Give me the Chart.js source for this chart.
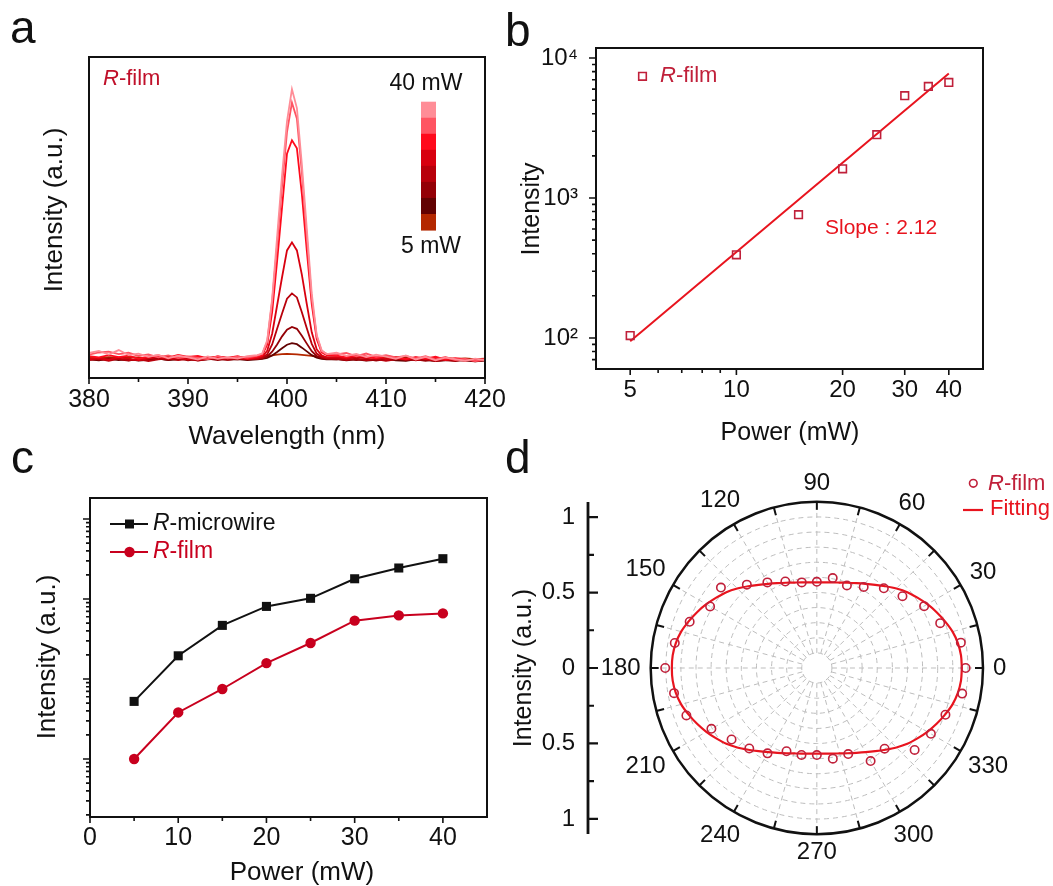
<!DOCTYPE html>
<html>
<head>
<meta charset="utf-8">
<title>R-film emission</title>
<script src="https://cdn.jsdelivr.net/npm/chart.js@4.4.1/dist/chart.umd.min.js"></script>
<style>
  html, body { margin: 0; padding: 0; background: #fff; }
  #wrap { position: relative; width: 1053px; height: 886px; }
  #wrap canvas { position: absolute; left: 0; top: 0; }
</style>
</head>
<body>
<div id="wrap">
  <canvas id="chartA" width="1053" height="886"></canvas>
  <canvas id="chartB" width="1053" height="886"></canvas>
  <canvas id="chartC" width="1053" height="886"></canvas>
  <canvas id="chartD" width="1053" height="886"></canvas>
</div>
<script>
const W = 1053, H = 886;
const FAMILY = "'Liberation Sans', Arial, Helvetica, sans-serif";
Chart.defaults.font.family = FAMILY;
Chart.defaults.color = '#111';

// ---------- (a) spectra, 40 mW down to 5 mW ----------
const wavelengths = [380, 381, 382, 383, 384, 385, 386, 387, 388, 389, 390, 391, 392, 393, 394, 395, 396, 397,
  397.5, 398, 398.5, 399, 399.5, 400, 400.5, 401, 401.5, 402, 402.5, 403, 403.5, 404,
  405, 406, 407, 408, 409, 410, 411, 412, 413, 414, 415, 416, 417, 418, 419, 420];
const powersA = ['40 mW', '35 mW', '30 mW', '25 mW', '20 mW', '15 mW', '10 mW', '5 mW'];
const spec40 = [1.8, 2.6, 1.2, 2.9, 1.0, 1.6, 0.4, 1.1, -0.2, 0.8, 0.2, -0.6, 0.5, -0.4, 0.3, -0.3, 0.6, 1.0,
  1.6, 6.5, 22, 45, 68, 88, 100, 93, 72, 48, 24, 8.5, 2.8, 1.4,
  1.9, 0.7, 1.5, 0.3, 1.2, 0.5, -0.4, 0.9, -0.6, 0.4, -0.9, 0.1, -0.5, -1.1, -0.3, -0.8];
const spec35 = [1.2, 2.0, 2.3, 1.4, 1.9, 0.7, 1.3, 0.2, 0.9, -0.1, 0.5, 0.0, -0.5, 0.6, -0.2, 0.4, 0.1, 0.8,
  1.5, 6.0, 21, 42, 64, 84, 95, 89, 69, 45, 22, 8.0, 2.5, 1.5,
  1.3, 1.8, 0.6, 1.6, 0.4, 1.0, 0.2, 0.7, -0.2, 0.6, -0.6, 0.3, -0.8, -0.4, -1.2, -0.6];
const spec30 = [0.6, 0.2, 1.0, 0.3, 0.8, -0.4, 0.5, 0.9, 0.1, 1.1, 0.4, 0.7, -0.2, 0.5, 0.0, 0.6, -0.3, 0.4,
  1.0, 5.0, 17, 36, 56, 76, 81, 78, 61, 40, 20, 7.0, 2.0, 1.0,
  0.8, 0.2, 1.0, 0.5, -0.2, 0.7, 0.1, -0.5, 0.3, -0.3, 0.4, -0.7, -0.1, -0.6, -1.0, -0.4];
const spec25 = [-0.5, -0.1, -0.7, 0.2, -0.3, -0.9, -0.2, 0.3, -0.4, 0.1, -0.6, 0.2, -0.3, 0.4, -0.1, 0.3, -0.4, 0.0,
  0.5, 2.6, 9.0, 19.5, 30, 40, 43, 40, 31, 20, 9.5, 3.2, 0.9, 0.2,
  0.3, -0.3, 0.5, -0.2, 0.4, -0.5, 0.1, -0.6, 0.2, -0.4, -0.8, 0.0, -0.6, -1.1, -0.5, -0.9];
const spec20 = [-0.8, -0.4, -1.1, -0.3, -0.9, -0.5, -1.2, -0.6, -0.2, -0.8, -0.4, -1.0, -0.5, -0.2, -0.7, -0.3, -0.6, -0.4,
  0.1, 1.3, 5.0, 10.8, 16.5, 22, 24, 22.5, 17, 11, 5.2, 1.6, 0.3, -0.2,
  -0.4, -0.8, -0.3, -0.9, -0.5, -1.1, -0.6, -0.2, -0.9, -0.5, -1.2, -0.7, -1.0, -0.6, -1.3, -0.8];
const spec15 = [-0.3, -0.7, -0.2, -0.6, -1.0, -0.4, -0.8, -0.3, -0.7, -0.2, -0.9, -0.5, -0.3, -0.8, -0.4, -0.6, -0.2, -0.5,
  -0.2, 0.5, 2.3, 5.0, 8.0, 10.5, 11.5, 10.8, 8.2, 5.3, 2.5, 0.7, -0.1, -0.4,
  -0.6, -0.2, -0.8, -0.4, -1.0, -0.5, -0.3, -0.9, -0.6, -1.1, -0.4, -0.8, -1.2, -0.7, -0.9, -0.5];
const spec10 = [-0.6, -0.9, -0.4, -0.8, -0.5, -1.0, -0.7, -0.3, -0.8, -0.6, -0.4, -0.9, -0.6, -0.3, -0.7, -0.5, -0.8, -0.6,
  -0.4, 0.0, 0.9, 2.2, 3.6, 4.9, 5.5, 5.1, 3.8, 2.4, 1.0, 0.1, -0.4, -0.6,
  -0.5, -0.9, -0.6, -1.0, -0.7, -0.4, -0.9, -1.1, -0.6, -0.8, -1.2, -0.9, -0.7, -1.0, -1.3, -1.0];
const spec5 = [0.2, -0.1, 0.3, 0.0, 0.4, 0.1, -0.2, 0.2, 0.5, 0.1, 0.3, -0.1, 0.2, 0.4, 0.0, 0.3, 0.1, 0.2,
  0.3, 0.6, 0.9, 1.2, 1.4, 1.5, 1.4, 1.3, 1.1, 0.9, 0.7, 0.5, 0.4, 0.3,
  0.2, 0.4, 0.0, 0.3, -0.1, 0.2, 0.4, 0.1, -0.2, 0.1, -0.3, 0.0, -0.4, -0.2, -0.5, -0.3];
const spectraA = [spec40, spec35, spec30, spec25, spec20, spec15, spec10, spec5];
const colorsA = ['#ff8d97', '#ff5462', '#ff0a1c', '#d8000f', '#b8000b', '#940006', '#620202', '#b42800'];
const xTicksA = [380, 390, 400, 410, 420];
const xMinorA = [385, 395, 405, 415];

// ---------- (b) power dependence, log-log ----------
const powerB = [5, 10, 15, 20, 25, 30, 35, 40];
const intensityB = [104, 393, 760, 1618, 2833, 5383, 6268, 6700];
const fitSlopeB = 2.12;
const fitStartB = 94.6;          // fitted intensity at 5 mW
const fitPowerB = [5, 40];
const xTicksB = [5, 10, 20, 30, 40];
const xMinorB = [6, 7, 8, 9];
const yTicksB = [100, 1000, 10000];
const yTickLabelsB = ['10²', '10³', '10⁴'];

// ---------- (c) microwire vs film ----------
const powerC = [5, 10, 15, 20, 25, 30, 35, 40];
const microwireC = [52500, 195000, 468000, 808000, 1020000, 1790000, 2440000, 3190000];
const filmC = [10000, 38200, 75000, 158000, 282000, 536000, 624000, 661000];
const xTicksC = [0, 10, 20, 30, 40];
const xMinorC = [5, 15, 25, 35];
const yMajorC = [1e4, 1e5, 1e6, 1e7];

// ---------- (d) polarisation ----------
const anglesD = [0, 10, 20, 30, 40, 50, 60, 70, 80, 90, 100, 110, 120, 130, 140, 150, 160, 170,
  180, 190, 200, 210, 220, 230, 240, 250, 260, 270, 280, 290, 300, 310, 320, 330, 340, 350];
const radiiD = [0.985, 0.968, 0.869, 0.820, 0.740, 0.690, 0.620, 0.582, 0.605, 0.571, 0.576, 0.610,
  0.655, 0.721, 0.829, 0.816, 0.896, 0.955, 1.004, 0.960, 0.919, 0.806, 0.737, 0.696,
  0.653, 0.587, 0.585, 0.577, 0.610, 0.607, 0.712, 0.698, 0.845, 0.872, 0.906, 0.977];
const fitAnglesD = [0, 5, 10, 15, 20, 25, 30, 35, 40, 45, 50, 55, 60, 65, 70, 75, 80, 85, 90,
  95, 100, 105, 110, 115, 120, 125, 130, 135, 140, 145, 150, 155, 160, 165, 170, 175, 180,
  185, 190, 195, 200, 205, 210, 215, 220, 225, 230, 235, 240, 245, 250, 255, 260, 265, 270,
  275, 280, 285, 290, 295, 300, 305, 310, 315, 320, 325, 330, 335, 340, 345, 350, 355, 360];
const fitRadiiD = [0.960, 0.958, 0.948, 0.930, 0.903, 0.875, 0.845, 0.813, 0.782, 0.745, 0.707, 0.673, 0.644, 0.620, 0.601, 0.586, 0.576, 0.569, 0.567,
  0.569, 0.576, 0.586, 0.601, 0.620, 0.644, 0.673, 0.707, 0.745, 0.782, 0.813, 0.845, 0.875, 0.903, 0.930, 0.948, 0.958, 0.960,
  0.958, 0.948, 0.930, 0.903, 0.875, 0.845, 0.813, 0.782, 0.745, 0.707, 0.673, 0.644, 0.620, 0.601, 0.586, 0.576, 0.569, 0.567,
  0.569, 0.576, 0.586, 0.601, 0.620, 0.644, 0.673, 0.707, 0.745, 0.782, 0.813, 0.845, 0.875, 0.903, 0.930, 0.948, 0.958, 0.960];
const yTicksD = [-1, -0.5, 0, 0.5, 1];
const yTickLabelsD = ['1', '0.5', '0', '0.5', '1'];
const yMinorD = [-0.75, -0.25, 0.25, 0.75];
const angleLabelsD = [0, 30, 60, 90, 120, 150, 180, 210, 240, 270, 300, 330];
const ringsD = [0.1, 0.2, 0.3, 0.4, 0.5, 0.6, 0.7, 0.8, 0.9, 1.0];
const spokesD = [0, 15, 30, 45, 60, 75, 90, 105, 120, 135, 150, 165, 180, 195, 210, 225, 240, 255, 270, 285, 300, 315, 330, 345];
const outerD = 1.1;

// ---------- helpers ----------
const CRIMSON = '#c0203a';
const RED = '#e8141e';

// chart area pinned to box b; yw / xh are the widths reserved for tick labels
function fixedBox(b, yw, xh) {
  return { padding: { left: b.l - yw, top: b.t, right: W - b.r, bottom: H - b.b - xh } };
}
const fixWidth = w => s => { s.width = w; };
const fixHeight = h => s => { s.height = h; };
const setTicks = list => s => { s.ticks = list.map(v => ({ value: v })); };

function logMinor(lo, hi) {
  const out = [];
  for (let d = Math.pow(10, Math.floor(Math.log10(lo))); d < hi; d *= 10) {
    for (let k = 2; k <= 9; k++) {
      const v = k * d;
      if (v > lo && v < hi) out.push(v);
    }
  }
  return out;
}

function drawText(ctx, t) {
  const parts = t.parts || [[t.text, 'normal']];
  ctx.save();
  ctx.fillStyle = t.color || '#111';
  ctx.textBaseline = t.baseline || 'middle';
  ctx.textAlign = 'left';
  const fontOf = st => `${st} ${t.size}px ${FAMILY}`;
  let total = 0;
  parts.forEach(([s, st]) => { ctx.font = fontOf(st); total += ctx.measureText(s).width; });
  ctx.translate(t.x, t.y);
  if (t.rotate) ctx.rotate(t.rotate * Math.PI / 180);
  let x = t.align === 'left' ? 0 : t.align === 'right' ? -total : -total / 2;
  parts.forEach(([s, st]) => {
    ctx.font = fontOf(st);
    ctx.fillText(s, x, 0);
    x += ctx.measureText(s).width;
  });
  ctx.restore();
}

function marker(ctx, style, x, y, size, color, filled) {
  ctx.save();
  ctx.strokeStyle = color;
  ctx.fillStyle = color;
  ctx.lineWidth = 1.6;
  ctx.beginPath();
  if (style === 'rect') ctx.rect(x - size / 2, y - size / 2, size, size);
  else ctx.arc(x, y, size / 2, 0, Math.PI * 2);
  filled ? ctx.fill() : ctx.stroke();
  ctx.restore();
}

// frame, tick marks, free text and legends for one panel
function decor(spec) {
  return {
    id: 'decor',
    beforeDatasetsDraw(chart) {
      if (spec.under) spec.under(chart, chart.ctx);
    },
    afterDraw(chart) {
      const ctx = chart.ctx, a = chart.chartArea;
      ctx.save();
      ctx.strokeStyle = '#111';
      if (spec.frame) {
        ctx.lineWidth = 2;
        ctx.strokeRect(a.left, a.top, a.right - a.left, a.bottom - a.top);
      }
      (spec.ticks || []).forEach(t => {
        const s = chart.scales[t.scale];
        ctx.beginPath();
        t.values.forEach(v => {
          const p = s.getPixelForValue(v);
          if (s.isHorizontal()) {
            ctx.moveTo(p, a.bottom);
            ctx.lineTo(p, a.bottom + t.len);
          } else {
            ctx.moveTo(a.left, p);
            ctx.lineTo(a.left + (t.inward ? t.len : -t.len), p);
          }
        });
        ctx.lineWidth = t.width || 1.6;
        ctx.stroke();
      });
      ctx.restore();
      if (spec.extra) spec.extra(chart, ctx);
      (spec.texts || []).forEach(t => drawText(ctx, t));
    }
  };
}

const hiddenGrid = { display: false, drawTicks: false };
const noBorder = { display: false };

// ---------- (a) ----------
const boxA = { l: 89, t: 57, r: 485, b: 378 };
new Chart(document.getElementById('chartA'), {
  type: 'line',
  data: {
    datasets: spectraA.map((vals, i) => ({
      label: powersA[i],
      data: vals.map((v, j) => ({ x: wavelengths[j], y: v })),
      borderColor: colorsA[i],
      borderWidth: 1.8,
      pointRadius: 0,
      tension: 0
    }))
  },
  options: {
    responsive: false,
    animation: false,
    devicePixelRatio: 1,
    layout: fixedBox(boxA, 0, 45),
    plugins: { legend: { display: false }, tooltip: { enabled: false } },
    scales: {
      x: {
        type: 'linear', min: 380, max: 420,
        afterFit: fixHeight(45), afterBuildTicks: setTicks(xTicksA),
        grid: hiddenGrid, border: noBorder,
        ticks: { autoSkip: false, maxRotation: 0, minRotation: 0, padding: 7, font: { size: 25 }, color: '#111', callback: v => String(v) }
      },
      y: { display: false, min: -7.5, max: 112 }
    }
  },
  plugins: [decor({
    frame: true,
    ticks: [
      { scale: 'x', values: xTicksA, len: 6 },
      { scale: 'x', values: xMinorA, len: 4 }
    ],
    extra(chart, ctx) {
      // power colour bar, 40 mW on top
      colorsA.forEach((c, i) => {
        ctx.fillStyle = c;
        ctx.fillRect(421, 101.7 + i * 16.04, 15, 16.6);
      });
    },
    texts: [
      { text: 'a', x: 10, y: 43, size: 46, align: 'left', baseline: 'alphabetic' },
      { parts: [['R', 'italic'], ['-film', 'normal']], x: 103, y: 79, size: 22, color: '#c0102a', align: 'left' },
      { text: '40 mW', x: 426, y: 84, size: 23 },
      { text: '5 mW', x: 431, y: 247, size: 23 },
      { text: 'Intensity (a.u.)', x: 55, y: 210, size: 26, rotate: -90 },
      { text: 'Wavelength (nm)', x: 287, y: 437, size: 26 }
    ]
  })]
});

// ---------- (b) ----------
const boxB = { l: 596, t: 48, r: 983, b: 369 };
new Chart(document.getElementById('chartB'), {
  type: 'scatter',
  data: {
    datasets: [
      {
        label: 'R-film',
        data: powerB.map((p, i) => ({ x: p, y: intensityB[i] })),
        pointStyle: 'rect', pointRadius: 5.4, pointBorderWidth: 1.6,
        borderColor: CRIMSON, backgroundColor: 'rgba(0,0,0,0)'
      },
      {
        label: 'Fit',
        data: fitPowerB.map(p => ({ x: p, y: fitStartB * Math.pow(p / 5, fitSlopeB) })),
        showLine: true, pointRadius: 0, borderColor: RED, borderWidth: 2
      }
    ]
  },
  options: {
    responsive: false,
    animation: false,
    devicePixelRatio: 1,
    layout: fixedBox(boxB, 70, 45),
    plugins: { legend: { display: false }, tooltip: { enabled: false } },
    scales: {
      x: {
        type: 'logarithmic', min: 4, max: 50,
        afterFit: fixHeight(45), afterBuildTicks: setTicks(xTicksB),
        grid: hiddenGrid, border: noBorder,
        ticks: { autoSkip: false, maxRotation: 0, minRotation: 0, padding: 7, font: { size: 24 }, color: '#111', callback: v => String(v) }
      },
      y: {
        type: 'logarithmic', min: 60, max: 11800,
        afterFit: fixWidth(70), afterBuildTicks: setTicks(yTicksB),
        grid: hiddenGrid, border: noBorder,
        ticks: { autoSkip: false, padding: 18, font: { size: 24 }, color: '#111', callback: (v, i) => yTickLabelsB[i] }
      }
    }
  },
  plugins: [decor({
    frame: true,
    ticks: [
      { scale: 'x', values: xTicksB, len: 6 },
      { scale: 'x', values: xMinorB, len: 4 },
      { scale: 'y', values: yTicksB, len: 7 },
      { scale: 'y', values: logMinor(60, 11800), len: 4 }
    ],
    extra(chart, ctx) {
      marker(ctx, 'rect', 642.5, 76.3, 7.6, CRIMSON, false);
    },
    texts: [
      { text: 'b', x: 505, y: 46, size: 46, align: 'left', baseline: 'alphabetic' },
      { parts: [['R', 'italic'], ['-film', 'normal']], x: 660, y: 76, size: 22, color: CRIMSON, align: 'left' },
      { text: 'Slope : 2.12', x: 825, y: 228, size: 21, color: RED, align: 'left' },
      { text: 'Intensity', x: 532, y: 209, size: 25, rotate: -90 },
      { text: 'Power (mW)', x: 790, y: 433, size: 25 }
    ]
  })]
});

// ---------- (c) ----------
const boxC = { l: 90, t: 498, r: 487, b: 817 };
const BLACK = '#111';
const FILM_RED = '#c8001e';
new Chart(document.getElementById('chartC'), {
  type: 'scatter',
  data: {
    datasets: [
      {
        label: 'R-microwire',
        data: powerC.map((p, i) => ({ x: p, y: microwireC[i] })),
        showLine: true, borderColor: BLACK, backgroundColor: BLACK, borderWidth: 2,
        pointStyle: 'rect', pointRadius: 6.4, pointBorderWidth: 0
      },
      {
        label: 'R-film',
        data: powerC.map((p, i) => ({ x: p, y: filmC[i] })),
        showLine: true, borderColor: FILM_RED, backgroundColor: FILM_RED, borderWidth: 2,
        pointStyle: 'circle', pointRadius: 5.2, pointBorderWidth: 0
      }
    ]
  },
  options: {
    responsive: false,
    animation: false,
    devicePixelRatio: 1,
    layout: fixedBox(boxC, 0, 45),
    plugins: { legend: { display: false }, tooltip: { enabled: false } },
    scales: {
      x: {
        type: 'linear', min: 0, max: 45,
        afterFit: fixHeight(45), afterBuildTicks: setTicks(xTicksC),
        grid: hiddenGrid, border: noBorder,
        ticks: { autoSkip: false, maxRotation: 0, minRotation: 0, padding: 6, font: { size: 25 }, color: '#111', callback: v => String(v) }
      },
      y: { type: 'logarithmic', display: false, min: 1884, max: 1.83e7 }
    }
  },
  plugins: [decor({
    frame: true,
    ticks: [
      { scale: 'x', values: xTicksC, len: 6 },
      { scale: 'x', values: xMinorC, len: 4 },
      { scale: 'y', values: yMajorC, len: 7 },
      { scale: 'y', values: logMinor(1884, 1.83e7), len: 4 }
    ],
    extra(chart, ctx) {
      ctx.save();
      ctx.lineWidth = 2;
      ctx.strokeStyle = BLACK;
      ctx.beginPath(); ctx.moveTo(110, 524); ctx.lineTo(148, 524); ctx.stroke();
      ctx.strokeStyle = FILM_RED;
      ctx.beginPath(); ctx.moveTo(110, 552); ctx.lineTo(148, 552); ctx.stroke();
      ctx.restore();
      marker(ctx, 'rect', 129.5, 524, 9, BLACK, true);
      marker(ctx, 'circle', 129.5, 552, 10.4, FILM_RED, true);
    },
    texts: [
      { text: 'c', x: 11, y: 473, size: 46, align: 'left', baseline: 'alphabetic' },
      { parts: [['R', 'italic'], ['-microwire', 'normal']], x: 153, y: 524, size: 23, align: 'left' },
      { parts: [['R', 'italic'], ['-film', 'normal']], x: 153, y: 552, size: 23, color: FILM_RED, align: 'left' },
      { text: 'Intensity (a.u.)', x: 48, y: 657, size: 26, rotate: -90 },
      { text: 'Power (mW)', x: 302, y: 873, size: 26 }
    ]
  })]
});

// ---------- (d) ----------
const boxD = { l: 588, t: 502, r: 983, b: 834 };
const toXY = (deg, r) => ({ x: r * Math.cos(deg * Math.PI / 180), y: r * Math.sin(deg * Math.PI / 180) });

function polarGrid(chart, ctx) {
  const xs = chart.scales.x, ys = chart.scales.y;
  const cx = xs.getPixelForValue(0), cy = ys.getPixelForValue(0);
  const unit = xs.getPixelForValue(1) - cx;
  const R = outerD * unit;
  ctx.save();
  ctx.strokeStyle = '#bdbdbd';
  ctx.lineWidth = 1;
  ctx.setLineDash([5, 4]);
  ringsD.forEach(r => {
    ctx.beginPath();
    ctx.arc(cx, cy, r * unit, 0, Math.PI * 2);
    ctx.stroke();
  });
  spokesD.forEach(a => {
    const t = a * Math.PI / 180;
    ctx.beginPath();
    ctx.moveTo(cx + 0.1 * unit * Math.cos(t), cy - 0.1 * unit * Math.sin(t));
    ctx.lineTo(cx + R * Math.cos(t), cy - R * Math.sin(t));
    ctx.stroke();
  });
  ctx.setLineDash([]);
  ctx.strokeStyle = '#111';
  ctx.lineWidth = 2.5;
  ctx.beginPath();
  ctx.arc(cx, cy, R, 0, Math.PI * 2);
  ctx.stroke();
  ctx.lineWidth = 2;
  spokesD.forEach(a => {
    const t = a * Math.PI / 180;
    ctx.beginPath();
    ctx.moveTo(cx + R * Math.cos(t), cy - R * Math.sin(t));
    ctx.lineTo(cx + (R - 8) * Math.cos(t), cy - (R - 8) * Math.sin(t));
    ctx.stroke();
  });
  ctx.restore();
}

new Chart(document.getElementById('chartD'), {
  type: 'scatter',
  data: {
    datasets: [
      {
        label: 'R-film',
        data: anglesD.map((a, i) => toXY(a, radiiD[i])),
        pointStyle: 'circle', pointRadius: 4.2, pointBorderWidth: 1.6,
        borderColor: CRIMSON, backgroundColor: 'rgba(0,0,0,0)'
      },
      {
        label: 'Fitting',
        data: fitAnglesD.map((a, i) => toXY(a, fitRadiiD[i])),
        showLine: true, pointRadius: 0, borderColor: RED, borderWidth: 2.2, tension: 0.3
      }
    ]
  },
  options: {
    responsive: false,
    animation: false,
    devicePixelRatio: 1,
    layout: fixedBox(boxD, 60, 0),
    plugins: { legend: { display: false }, tooltip: { enabled: false } },
    scales: {
      x: { type: 'linear', display: false, min: -1.515, max: 1.1 },
      y: {
        type: 'linear', min: -1.1, max: 1.1,
        afterFit: fixWidth(60), afterBuildTicks: setTicks(yTicksD),
        grid: hiddenGrid, border: noBorder,
        ticks: { autoSkip: false, padding: 13, font: { size: 24 }, color: '#111', callback: (v, i) => yTickLabelsD[i] }
      }
    }
  },
  plugins: [decor({
    under: polarGrid,
    ticks: [
      { scale: 'y', values: yTicksD, len: 10, inward: true, width: 2.2 },
      { scale: 'y', values: yMinorD, len: 6, inward: true, width: 2.2 }
    ],
    extra(chart, ctx) {
      const a = chart.chartArea;
      const xs = chart.scales.x, ys = chart.scales.y;
      const cx = xs.getPixelForValue(0), cy = ys.getPixelForValue(0);
      const R = outerD * (xs.getPixelForValue(1) - cx);
      ctx.save();
      // left intensity axis
      ctx.strokeStyle = '#111';
      ctx.lineWidth = 2.8;
      ctx.beginPath(); ctx.moveTo(a.left, a.top); ctx.lineTo(a.left, a.bottom); ctx.stroke();
      // angle labels around the rim
      ctx.font = `24px ${FAMILY}`;
      ctx.fillStyle = '#111';
      ctx.textAlign = 'center';
      ctx.textBaseline = 'middle';
      angleLabelsD.forEach(deg => {
        const t = deg * Math.PI / 180;
        const label = String(deg);
        const w = ctx.measureText(label).width;
        const d = R + 10 + Math.abs(Math.cos(t)) * w / 2 + Math.abs(Math.sin(t)) * 8.5;
        ctx.fillText(label, cx + d * Math.cos(t), cy - d * Math.sin(t));
      });
      // legend
      ctx.strokeStyle = RED;
      ctx.lineWidth = 2.2;
      ctx.beginPath(); ctx.moveTo(963, 510); ctx.lineTo(983, 510); ctx.stroke();
      ctx.restore();
      marker(ctx, 'circle', 973.3, 483.3, 7.6, CRIMSON, false);
    },
    texts: [
      { text: 'd', x: 505, y: 473, size: 46, align: 'left', baseline: 'alphabetic' },
      { parts: [['R', 'italic'], ['-film', 'normal']], x: 988, y: 484, size: 22, color: CRIMSON, align: 'left' },
      { text: 'Fitting', x: 990, y: 509, size: 22, color: RED, align: 'left' },
      { text: 'Intensity (a.u.)', x: 524, y: 668, size: 25, rotate: -90 }
    ]
  })]
});
</script>
</body>
</html>
